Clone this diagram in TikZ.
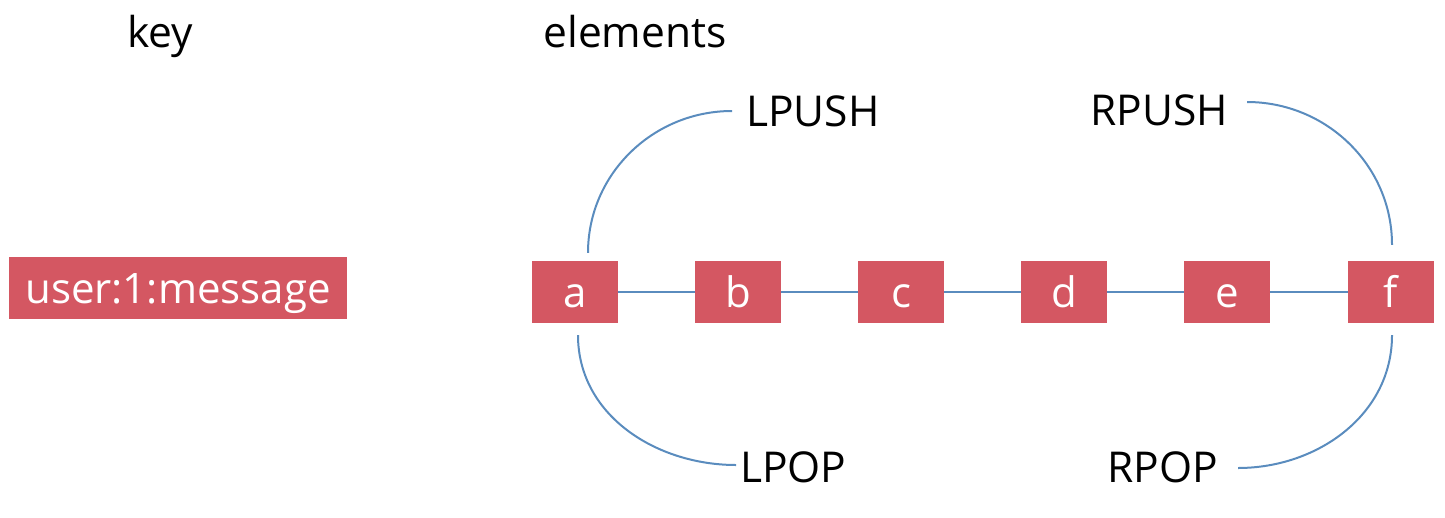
\documentclass[tikz,border=0pt]{standalone}
\usepackage{fontspec}
\setmainfont{Open Sans}
\definecolor{boxred}{RGB}{212,87,98}
\definecolor{linkblue}{RGB}{90,140,190}
\begin{document}
\begin{tikzpicture}[x=1pt,y=-1pt,
  elem/.style={fill=boxred, text=white, minimum width=86pt, minimum height=62pt, inner sep=0pt, text height=30pt, text depth=0pt, font=\fontsize{42}{50}\selectfont},
  lbl/.style={font=\fontsize{42.5}{50}\selectfont, inner sep=0pt},
  link/.style={draw=linkblue, line width=2pt}]
\useasboundingbox (0,0) rectangle (1445,517);
\node[elem, minimum width=338pt] (key) at (178,288) {user:1:message};
\node[lbl, anchor=base] (keyt) at (160,47) {key};
\node[lbl, anchor=base] (elt) at (635,47) {elements};
\node[elem] (a) at (575,292) {a};
\node[elem] (b) at (738,292) {b};
\node[elem] (c) at (901,292) {c};
\node[elem] (d) at (1064,292) {d};
\node[elem] (e) at (1227,292) {e};
\node[elem] (f) at (1391,292) {f};
\node[lbl, anchor=west] (lpush) at (746,111) {LPUSH};
\node[lbl, anchor=west] (lpop) at (740,467) {LPOP};
\node[lbl, anchor=east] (rpush) at (1228,110) {RPUSH};
\node[lbl, anchor=east] (rpop) at (1218,467) {RPOP};
\draw[link] (a) -- (b);
\draw[link] (b) -- (c);
\draw[link] (c) -- (d);
\draw[link] (d) -- (e);
\draw[link] (e) -- (f);
\draw[link] ([shift={(13pt,8pt)}]a.north) to[out=90,in=180] ([xshift=-14pt]lpush.west);
\draw[link] ([shift={(3pt,-12pt)}]a.south) to[out=-90,in=180] ([xshift=-4pt,yshift=2pt]lpop.west);
\draw[link] ([shift={(19pt,8pt)}]rpush.east) to[out=0,in=90] ([shift={(1pt,16pt)}]f.north);
\draw[link] ([shift={(1pt,-12pt)}]f.south) to[out=-90,in=0] ([shift={(20pt,-1pt)}]rpop.east);
\end{tikzpicture}
\end{document}
